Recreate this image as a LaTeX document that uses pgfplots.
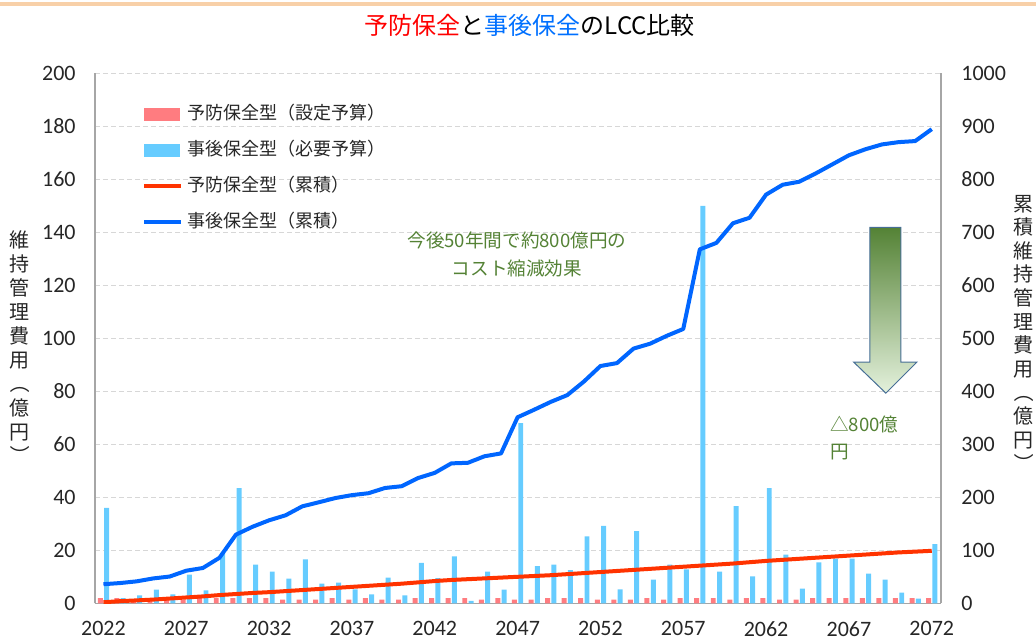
\documentclass[border=0pt]{standalone}
\usepackage{pgfplots}
\pgfplotsset{compat=1.18}
\usepackage{pgfplotstable}
\usepackage{graphicx}
\usepackage{fontspec}
\setmainfont{Carlito}
\newfontfamily\jp{Noto Sans CJK JP}

\definecolor{pinkbar}{RGB}{255,124,128}
\definecolor{bluebar}{RGB}{102,204,255}
\definecolor{redline}{RGB}{255,51,0}
\definecolor{blueline}{RGB}{0,102,255}
\definecolor{gridc}{RGB}{215,215,215}
\definecolor{framec}{RGB}{166,166,166}
\definecolor{anngreen}{RGB}{84,130,53}
\definecolor{arrtop}{RGB}{84,130,53}
\definecolor{arrbot}{RGB}{228,241,220}
\definecolor{arredge}{RGB}{70,110,150}
\definecolor{peach}{RGB}{248,208,168}
\definecolor{titlered}{RGB}{255,0,0}
\definecolor{titleblue}{RGB}{0,112,255}

\pgfplotstableread{
year red blue redcum bluecum
2022 2.0 36.0 2.0 36.0
2023 2.0 2.0 4.0 38.2
2024 1.4 3.0 5.5 41.4
2025 1.4 5.2 7.0 46.9
2026 1.4 3.4 9.0 50.5
2027 1.4 10.8 11.0 61.5
2028 2.0 4.9 13.0 66.6
2029 2.0 19.0 15.5 85.8
2030 2.0 43.5 17.5 129.6
2031 2.0 14.6 19.5 144.4
2032 2.0 12.0 21.0 156.6
2033 1.4 9.3 23.0 166.1
2034 1.4 16.6 25.0 182.9
2035 1.4 7.4 27.0 190.6
2036 2.0 7.8 29.0 198.6
2037 1.4 5.3 31.0 204.1
2038 2.0 3.4 33.0 207.7
2039 1.4 9.7 35.0 217.6
2040 1.4 3.0 37.0 220.9
2041 2.0 15.3 39.5 236.4
2042 2.0 9.5 42.0 246.1
2043 2.0 17.7 44.0 264.0
2044 2.0 0.9 45.5 265.1
2045 1.4 12.0 47.0 277.4
2046 2.0 5.2 48.5 282.8
2047 1.4 68.0 50.0 351.0
2048 1.4 14.0 51.5 365.2
2049 2.0 14.6 53.0 380.0
2050 2.0 12.5 55.0 392.8
2051 2.0 25.3 57.0 418.3
2052 1.4 29.2 59.0 447.7
2053 1.4 5.3 61.0 453.2
2054 1.4 27.2 63.0 480.6
2055 2.0 8.9 65.0 489.8
2056 1.4 14.6 67.0 504.6
2057 2.0 12.8 69.0 517.6
2058 2.0 150.0 71.0 667.8
2059 2.0 12.0 73.0 680.0
2060 1.4 36.7 75.0 717.0
2061 2.0 10.2 77.5 727.4
2062 2.0 43.5 80.0 771.1
2063 1.4 18.4 82.0 789.7
2064 1.4 5.5 84.0 795.4
2065 2.0 15.4 86.0 811.1
2066 2.0 16.9 88.0 828.2
2067 2.0 16.9 90.0 845.3
2068 2.0 11.2 92.0 856.7
2069 2.0 8.9 94.0 865.8
2070 2.0 4.0 96.0 870.1
2071 2.0 1.8 97.5 872.1
2072 2.0 22.3 99.0 894.6
}\data

\newcommand{\vlp}{\rotatebox[origin=c]{-90}{（}}
\newcommand{\vrp}{\rotatebox[origin=c]{-90}{）}}

\pgfplotsset{
  common/.style={
    scale only axis, width=423pt, height=265pt,
    at={(0,0)}, anchor=south west,
    xmin=2021.49, xmax=2072.56,
    major tick length=0pt,
    /pgf/number format/assume math mode=true,
    /pgf/number format/1000 sep={},
    tick label style={font=\fontsize{11}{13}\selectfont, text=black!85},
    axis line style={draw=framec, line width=0.75pt},
  },
}

\begin{document}
\begin{tikzpicture}
\useasboundingbox (-47.5pt,-18.85pt) rectangle (470.5pt,301.65pt);
\fill[peach] (-47.5pt,298.6pt) rectangle (470.5pt,300.8pt);

\begin{axis}[common,
  axis x line*=bottom, axis y line*=left,
  ymin=0, ymax=200, ytick={0,20,...,200},
  xtick={2022,2027,...,2072},
  xticklabel style={anchor=north, inner sep=0pt, yshift=-9pt},
  yticklabel style={anchor=east, inner sep=0pt, xshift=-9.5pt},
  ymajorgrids, grid style={draw=gridc, line width=0.6pt, dash pattern=on 2.5pt off 1.5pt},
  clip=false,
]
\addplot[ybar, bar width=0.3, bar shift=-0.19, fill=pinkbar, draw=none] table[x=year, y=red] {\data};
\addplot[ybar, bar width=0.3, bar shift=0.19, fill=bluebar, draw=none] table[x=year, y=blue] {\data};

\shadedraw[top color=arrtop, bottom color=arrbot, draw=arredge, line width=0.5pt]
  (axis cs:2068.26,141.9) -- (axis cs:2070.13,141.9) -- (axis cs:2070.13,91.0)
  -- (axis cs:2071.10,91.0) -- (axis cs:2069.23,79.3) -- (axis cs:2067.29,91.0)
  -- (axis cs:2068.26,91.0) -- cycle;

\node[align=center, text=anngreen, font=\jp\fontsize{9.3}{14}\selectfont]
  at (axis cs:2046.96,131.7) {今後50年間で約800億円の\\コスト縮減効果};
\node[align=left, anchor=west, inner sep=0pt, text=anngreen, font=\jp\fontsize{9.3}{13.5}\selectfont]
  at (axis cs:2065.85,62.2) {△800億\\円};

\node[font=\jp\fontsize{12}{14}\selectfont] at (rel axis cs:0.514,1.091)
  {\textcolor{titlered}{予防保全}と\textcolor{titleblue}{事後保全}のLCC比較};

\node[align=center, inner sep=0pt, text=black!85, font=\jp\fontsize{10}{12}\selectfont] at (rel axis cs:-0.0887,0.482)
  {維\\持\\管\\理\\費\\用\\\vlp\\億\\円\\\vrp};
\node[align=center, inner sep=0pt, text=black!85, font=\jp\fontsize{10}{11.8}\selectfont] at (rel axis cs:1.098,0.508)
  {累\\積\\維\\持\\管\\理\\費\\用\\\vlp\\億\\円\\\vrp};
\end{axis}

\begin{axis}[common,
  axis x line=none, axis y line*=right,
  ymin=0, ymax=1000, ytick={0,100,...,1000},
  yticklabel style={anchor=west, inner sep=0pt, xshift=10pt},
  legend cell align=left,
  legend style={at={(0.0553,0.94)}, anchor=north west, draw=none, fill=none,
    inner sep=0pt, font=\jp\fontsize{9}{11}\selectfont, text=black!85,
    /tikz/column sep=2pt, /tikz/row sep=9pt,
    nodes={inner sep=0pt, text height=7pt, text depth=2pt}},
]
\addlegendimage{legend image code/.code={\fill[pinkbar] (0pt,-3pt) rectangle (17.5pt,3pt);}}
\addlegendentry{予防保全型（設定予算）}
\addlegendimage{legend image code/.code={\fill[bluebar] (0pt,-3pt) rectangle (17.5pt,3pt);}}
\addlegendentry{事後保全型（必要予算）}
\addplot[redline, line width=2pt, line join=round,
  legend image code/.code={\draw[redline, line width=2pt] (0pt,0pt) -- (18.5pt,0pt);}]
  table[x=year, y=redcum] {\data};
\addlegendentry{予防保全型（累積）}
\addplot[blueline, line width=2pt, line join=round,
  legend image code/.code={\draw[blueline, line width=2pt] (0pt,0pt) -- (18.5pt,0pt);}]
  table[x=year, y=bluecum] {\data};
\addlegendentry{事後保全型（累積）}
\end{axis}
\end{tikzpicture}
\end{document}
